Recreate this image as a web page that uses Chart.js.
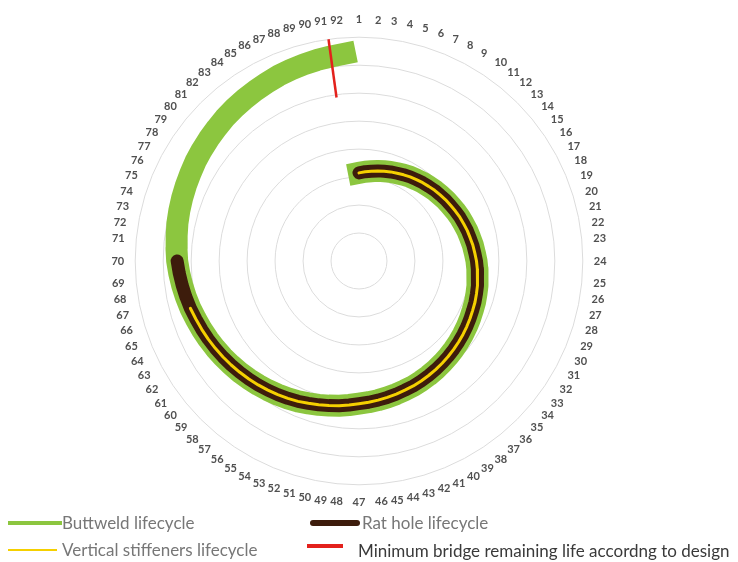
<!DOCTYPE html>
<html>
<head>
<meta charset="utf-8">
<script src="https://cdn.jsdelivr.net/npm/chart.js@4/dist/chart.umd.min.js"></script>
<style>
  body { margin: 0; background: #fff; }
  #wrap { position: relative; width: 738px; height: 562px; font-family: Lato, "Open Sans", sans-serif; }
  #spiral { position: absolute; left: 0; top: 0; }
  .key { position: absolute; height: 0; }
  .key .sw { position: absolute; }
  .key span { position: absolute; white-space: nowrap; font-size: 17px; line-height: 20px; top: -10px; color: #777; }
</style>
</head>
<body>
<div id="wrap">
  <canvas id="spiral" width="738" height="562"></canvas>
  <div class="key" style="left:0;top:523px">
    <div class="sw" style="left:8px;top:-2px;width:54px;height:4px;background:#8cc63f"></div>
    <span style="left:62px">Buttweld lifecycle</span>
  </div>
  <div class="key" style="left:0;top:523px">
    <div class="sw" style="left:310px;top:-3px;width:50px;height:6px;background:#3d1c0c;border-radius:3px"></div>
    <span style="left:362px">Rat hole lifecycle</span>
  </div>
  <div class="key" style="left:0;top:550px">
    <div class="sw" style="left:8px;top:-1px;width:49px;height:2px;background:#f5d000"></div>
    <span style="left:62px">Vertical stiffeners lifecycle</span>
  </div>
  <div class="key" style="left:0;top:546px">
    <div class="sw" style="left:307px;top:-2px;width:36px;height:4px;background:#e3211c"></div>
  </div>
  <div class="key" style="left:0;top:551px">
    <span style="left:358px;color:#3a3a3a">Minimum bridge remaining life accordng to design</span>
  </div>
</div>
<script>
// position numbers around the wheel
const categories = [
  '1','2','3','4','5','6','7','8','9','10','11','12','13','14','15','16','17','18','19','20',
  '21','22','23','24','25','26','27','28','29','30','31','32','33','34','35','36','37','38','39','40',
  '41','42','43','44','45','46','47','48','49','50','51','52','53','54','55','56','57','58','59','60',
  '61','62','63','64','65','66','67','68','69','70','71','72','73','74','75','76','77','78','79','80',
  '81','82','83','84','85','86','87','88','89','90','91','92'
];

// buttweld runs the full way round
const buttweld = [
  31.5, 32.0, 32.4, 32.9, 33.3, 33.8, 34.2, 34.7, 35.2, 35.6,
  36.1, 36.5, 37.0, 37.4, 37.9, 38.3, 38.8, 39.3, 39.7, 40.2,
  40.6, 41.1, 41.5, 42.0, 42.4, 42.8, 43.2, 43.6, 44.0, 44.3,
  44.7, 45.1, 45.5, 45.9, 46.3, 46.7, 47.1, 47.5, 47.9, 48.3,
  48.7, 49.0, 49.4, 49.8, 50.2, 50.6, 51.0, 51.6, 52.2, 52.8,
  53.4, 54.0, 54.7, 55.3, 55.9, 56.5, 57.1, 57.7, 58.3, 58.9,
  59.5, 60.1, 60.7, 61.3, 61.9, 62.6, 63.2, 63.8, 64.4, 65.0,
  65.4, 65.8, 66.3, 66.7, 67.1, 67.5, 67.9, 68.4, 68.8, 69.2,
  69.6, 70.1, 70.5, 70.9, 71.3, 71.7, 72.2, 72.6, 73.0, 73.4,
  73.8, 74.3
];

// rat hole stops at position 70
const ratHole = [
  31.5, 32.0, 32.4, 32.9, 33.3, 33.8, 34.2, 34.7, 35.2, 35.6,
  36.1, 36.5, 37.0, 37.4, 37.9, 38.3, 38.8, 39.3, 39.7, 40.2,
  40.6, 41.1, 41.5, 42.0, 42.4, 42.8, 43.2, 43.6, 44.0, 44.3,
  44.7, 45.1, 45.5, 45.9, 46.3, 46.7, 47.1, 47.5, 47.9, 48.3,
  48.7, 49.0, 49.4, 49.8, 50.2, 50.6, 51.0, 51.6, 52.2, 52.8,
  53.4, 54.0, 54.7, 55.3, 55.9, 56.5, 57.1, 57.7, 58.3, 58.9,
  59.5, 60.1, 60.7, 61.3, 61.9, 62.6, 63.2, 63.8, 64.4, 65.0,
  null, null, null, null, null, null, null, null, null, null,
  null, null, null, null, null, null, null, null, null, null,
  null, null
];

// vertical stiffeners stop at position 66
const stiffeners = [
  31.5, 32.0, 32.4, 32.9, 33.3, 33.8, 34.2, 34.7, 35.2, 35.6,
  36.1, 36.5, 37.0, 37.4, 37.9, 38.3, 38.8, 39.3, 39.7, 40.2,
  40.6, 41.1, 41.5, 42.0, 42.4, 42.8, 43.2, 43.6, 44.0, 44.3,
  44.7, 45.1, 45.5, 45.9, 46.3, 46.7, 47.1, 47.5, 47.9, 48.3,
  48.7, 49.0, 49.4, 49.8, 50.2, 50.6, 51.0, 51.6, 52.2, 52.8,
  53.4, 54.0, 54.7, 55.3, 55.9, 56.5, 57.1, 57.7, 58.3, 58.9,
  59.5, 60.1, 60.7, 61.3, 61.9, 62.6, null, null, null, null,
  null, null, null, null, null, null, null, null, null, null,
  null, null, null, null, null, null, null, null, null, null,
  null, null
];

// minimum remaining life marker: a radial bar at one position
const minLifeCategory = '91';
const minLifeRange = [59, 80];

// red radial marker drawn through the radial scale
const minLifeMarker = {
  id: 'minLifeMarker',
  afterDatasetsDraw(chart) {
    const r = chart.scales.r;
    const idx = categories.indexOf(minLifeCategory);
    const a = r.getPointPositionForValue(idx, minLifeRange[0]);
    const b = r.getPointPositionForValue(idx, minLifeRange[1]);
    const ctx = chart.ctx;
    ctx.save();
    ctx.strokeStyle = '#e3211c';
    ctx.lineWidth = 2.5;
    ctx.beginPath();
    ctx.moveTo(a.x, a.y);
    ctx.lineTo(b.x, b.y);
    ctx.stroke();
    ctx.restore();
  }
};

// radar lines normally close back to the first point; keep the spiral open
const openSpiral = {
  id: 'openSpiral',
  afterDatasetUpdate(chart, args) {
    const line = args.meta.dataset;
    if (!line) return;
    line._loop = false;
    line._fullLoop = false;
    delete line._segments;
    delete line._path;
  }
};

const ctx = document.getElementById('spiral').getContext('2d');
new Chart(ctx, {
  type: 'radar',
  data: {
    labels: categories,
    datasets: [
      {
        label: 'Vertical stiffeners lifecycle',
        data: stiffeners,
        borderColor: '#f5d000',
        borderWidth: 3,
        borderCapStyle: 'round',
        order: 1
      },
      {
        label: 'Rat hole lifecycle',
        data: ratHole,
        borderColor: '#3d1c0c',
        borderWidth: 13,
        borderCapStyle: 'round',
        order: 2
      },
      {
        label: 'Buttweld lifecycle',
        data: buttweld,
        borderColor: '#8cc63f',
        borderWidth: 22,
        borderCapStyle: 'square',
        order: 3
      }
    ]
  },
  options: {
    responsive: false,
    animation: false,
    layout: { padding: { top: 14, bottom: 52, left: 0, right: 20 } },
    elements: {
      point: { radius: 0, hoverRadius: 0 },
      line: { tension: 0, fill: false, borderJoinStyle: 'round' }
    },
    plugins: {
      legend: { display: false },
      tooltip: { enabled: false }
    },
    scales: {
      r: {
        min: 0,
        max: 80,
        ticks: { stepSize: 10, display: false },
        angleLines: { display: false },
        grid: { circular: true, color: '#dcdcdc', lineWidth: 1 },
        pointLabels: {
          padding: 11,
          color: '#505050',
          font: { family: 'Lato', size: 11, weight: 'bold' }
        }
      }
    }
  },
  plugins: [minLifeMarker, openSpiral]
});
</script>
</body>
</html>
